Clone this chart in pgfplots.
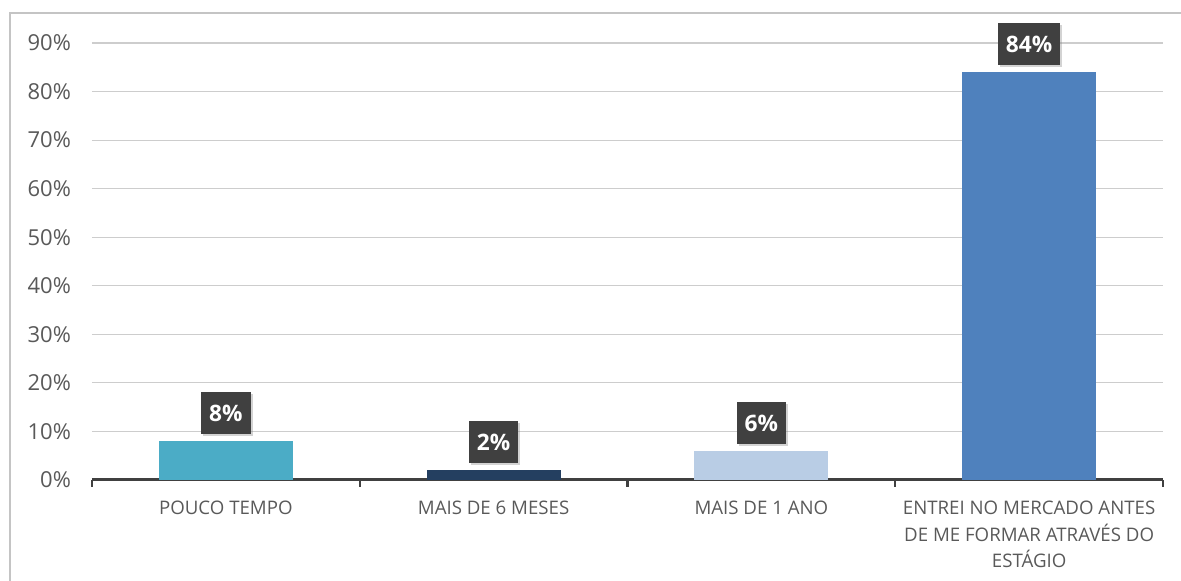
\documentclass[border=0pt]{standalone}
\usepackage{pgfplots}
\pgfplotsset{compat=1.18}
\usepackage{fontspec}
\setmainfont{Open Sans}
\usetikzlibrary{shadows}
\definecolor{cA}{HTML}{4BACC6}
\definecolor{cB}{HTML}{243F60}
\definecolor{cC}{HTML}{B9CDE5}
\definecolor{cD}{HTML}{4F81BD}
\definecolor{lblc}{HTML}{404040}
\definecolor{tickc}{HTML}{595959}
\definecolor{gridc}{HTML}{CDCDCD}
\definecolor{framec}{HTML}{C4C4C4}
\begin{document}
\begin{tikzpicture}[x=0.75pt,y=0.75pt]
\useasboundingbox (0,0) rectangle (1181,581);
\draw[color=framec, line width=1.5pt] (10,-10) -- (10,568) -- (1195,568);
\begin{axis}[
  at={(69pt,75.75pt)}, anchor=south west,
  scale only axis, width=803.25pt, height=327.75pt,
  xmin=-0.5, xmax=3.5, ymin=0, ymax=90,
  axis lines*=left,
  y axis line style={draw=none},
  x axis line style={color=lblc, line width=2.25pt},
  ytick={0,10,...,90},
  yticklabel={\pgfmathprintnumber{\tick}\%},
  ymajorgrids, grid style={color=gridc, line width=0.9pt},
  major y tick style={draw=none},
  xtick={0,1,2,3},
  xticklabels={POUCO TEMPO, MAIS DE 6 MESES, MAIS DE 1 ANO, {ENTREI NO MERCADO ANTES\\DE ME FORMAR ATRAVÉS DO\\ESTÁGIO}},
  major x tick style={draw=none},
  minor xtick={-0.5,0.5,1.5,2.5,3.5},
  minor x tick style={color=lblc, line width=1.8pt},
  minor tick length=5pt,
  tick align=outside,
  /pgf/number format/assume math mode=true,
  ticklabel style={text=tickc},
  xticklabel style={align=center, yshift=-8pt, font=\fontsize{14}{20}\selectfont},
  yticklabel style={xshift=-8pt, font=\fontsize{16.5}{20}\selectfont},
  nodes near coords={\pgfmathprintnumber{\pgfplotspointmeta}\%},
  nodes near coords style={fill=lblc, text=white, font=\bfseries\fontsize{17}{20}\selectfont,
    inner xsep=6pt, minimum height=31.5pt, anchor=south, yshift=5pt,
    drop shadow={shadow xshift=1.5pt, shadow yshift=-1.5pt, opacity=0.35}},
  ybar, bar width=100.5pt,
  clip=false,
]
\addplot[fill=cA, draw=none, bar shift=0pt] coordinates {(0,8)};
\addplot[fill=cB, draw=none, bar shift=0pt] coordinates {(1,2)};
\addplot[fill=cC, draw=none, bar shift=0pt] coordinates {(2,6)};
\addplot[fill=cD, draw=none, bar shift=0pt] coordinates {(3,84)};
\end{axis}
\end{tikzpicture}
\end{document}
